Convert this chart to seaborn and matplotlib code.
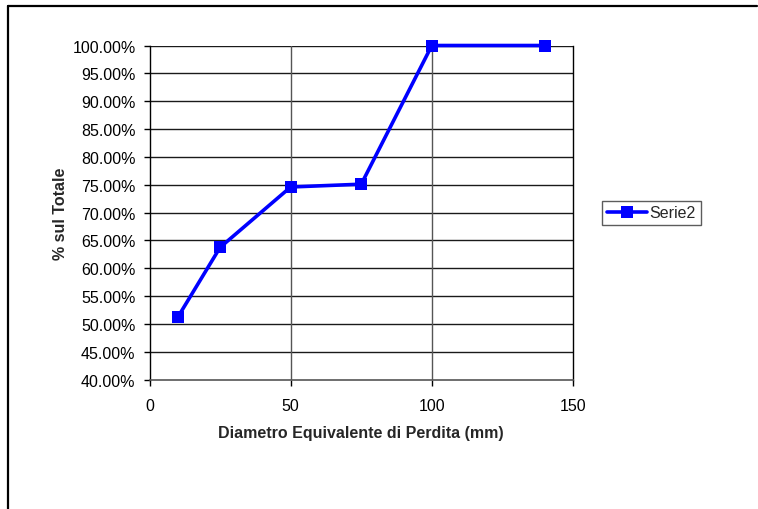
import matplotlib
matplotlib.use("Agg")
import matplotlib.pyplot as plt
from matplotlib.lines import Line2D
from matplotlib.ticker import FuncFormatter, MultipleLocator
import seaborn as sns
import pandas as pd

# Cumulative share of losses by equivalent leak diameter
diametro_mm = [10, 25, 50, 75, 100, 140]
percentuale = [51.2, 63.75, 74.6, 75.1, 100.0, 100.0]
serie = "Serie2"

df = pd.DataFrame({"Diametro": diametro_mm, "Percentuale": percentuale, "Serie": serie})

sns.set_theme(style="white")
plt.rcParams["font.family"] = ["Liberation Sans", "DejaVu Sans"]

W, H = 758, 510
fig = plt.figure(figsize=(W / 100, H / 100), dpi=100)
fig.patch.set_facecolor("white")

left, right, top, bottom = 149.5, 573.0, 46.5, 380.7
ax = fig.add_axes([left / W, 1 - bottom / H, (right - left) / W, (bottom - top) / H])

sns.lineplot(data=df, x="Diametro", y="Percentuale", hue="Serie",
             palette=["#0000FF"], marker="s", markersize=8.5,
             markeredgewidth=0, linewidth=2.6, ax=ax, legend=False)
for ln in ax.lines:
    ln.set_clip_on(False)
    ln.set_zorder(5)

ax.set_xlim(0, 150)
ax.set_ylim(40, 100)
ax.xaxis.set_major_locator(MultipleLocator(50))
ax.yaxis.set_major_locator(MultipleLocator(5))
ax.yaxis.set_major_formatter(FuncFormatter(lambda v, p: f"{v:.2f}%"))

# grid lines
for yv in range(45, 101, 5):
    ax.axhline(yv, color="#1a1a1a", linewidth=1.0, zorder=0.5)
for xv in (50, 100):
    ax.axvline(xv, color="#555555", linewidth=1.0, zorder=0.5)

for s in ("left", "right"):
    ax.spines[s].set_color("black")
    ax.spines[s].set_linewidth(1.0)
ax.spines["top"].set_visible(False)
ax.spines["bottom"].set_color("#555555")
ax.spines["bottom"].set_linewidth(1.2)

fs = 11.5
ax.tick_params(axis="both", direction="out", length=4, width=1, color="black",
               labelsize=fs, labelcolor="black")
ax.tick_params(axis="x", bottom=True, pad=9)
ax.tick_params(axis="y", left=True, pad=6)

ax.set_xlabel("Diametro Equivalente di Perdita (mm)", fontsize=fs, fontweight="bold", labelpad=9)
ax.set_ylabel("% sul Totale", fontsize=fs, fontweight="bold", labelpad=3)

handle = Line2D([], [], color="#0000FF", marker="s", markersize=8.5,
                markeredgewidth=0, linewidth=2.6)
leg = fig.legend([handle], [serie], loc="center",
                 bbox_to_anchor=(651.5 / W, 1 - 214 / H), fontsize=fs,
                 frameon=True, fancybox=False, handlelength=2.5,
                 borderpad=0.3, handletextpad=0.15, borderaxespad=0)
leg.get_frame().set_edgecolor("#333333")
leg.get_frame().set_linewidth(1.0)

# outer frame (top and left edges)
fig.add_artist(Line2D([7.5 / W, 7.5 / W], [0, 1 - 6.5 / H], color="black",
                      linewidth=1.6, transform=fig.transFigure))
fig.add_artist(Line2D([7.5 / W, 757 / W], [1 - 6.5 / H, 1 - 6.5 / H], color="black",
                      linewidth=1.6, transform=fig.transFigure))

fig.savefig("out.png", dpi=100)
